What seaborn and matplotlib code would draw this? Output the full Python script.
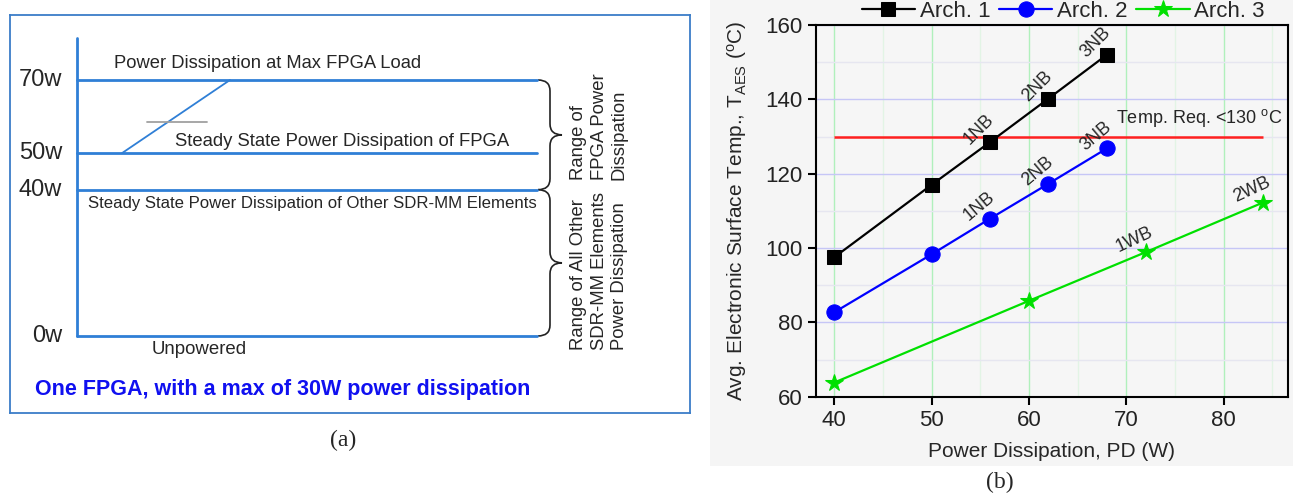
import seaborn as sns
import matplotlib.pyplot as plt
from matplotlib.patches import Rectangle, PathPatch
from matplotlib.path import Path
from matplotlib.ticker import MultipleLocator

# ---- panel (a): power budget diagram ----
power_levels = [0, 40, 50, 70]
power_labels = ["0w", "40w", "50w", "70w"]
fpga_steady_w = 50
fpga_max_w = 70
other_w = 40

# ---- panel (b): temperature vs power dissipation ----
arch1_pd = [40, 50, 56, 62, 68]
arch1_temp = [97.5, 117.0, 128.5, 140.2, 152.0]
arch1_tags = ["", "", "1NB", "2NB", "3NB"]

arch2_pd = [40, 50, 56, 62, 68]
arch2_temp = [82.7, 98.3, 107.9, 117.3, 126.8]
arch2_tags = ["", "", "1NB", "2NB", "3NB"]

arch3_pd = [40, 60, 72, 84]
arch3_temp = [63.8, 85.8, 98.9, 112.2]
arch3_tags = ["", "", "1WB", "2WB"]

temp_req = 130
temp_req_span = (40, 84)

sns.set_theme(style="white")
plt.rcParams["font.family"] = ["Liberation Sans", "DejaVu Sans"]
plt.rcParams["mathtext.default"] = "regular"

fig = plt.figure(figsize=(12.93, 4.97), dpi=100)
W, H = 1293, 497

# grey backdrop behind panel (b)
fig.add_artist(Rectangle((710 / W, 31 / H), (W - 710) / W, 466 / H,
                         transform=fig.transFigure, facecolor="#f5f5f5",
                         edgecolor="none", zorder=0))

# ================= panel (a) =================
ax_a = fig.add_axes([10 / W, 84 / H, 680 / W, 398 / H])
ax_a.set_xlim(10, 690)
ax_a.set_ylim(-21.06, 87.77)
ax_a.set_xticks([])
ax_a.set_yticks([])
for s in ax_a.spines.values():
    s.set_color("#3b7dc8")
    s.set_linewidth(1.3)

blue = "#2f7fd6"
ax_a.plot([77, 77], [0, 81.5], color=blue, lw=2)
for lvl, lab in zip(power_levels, power_labels):
    ax_a.plot([77, 537], [lvl, lvl], color=blue, lw=2)
    ax_a.text(62, lvl, lab, ha="right", va="center", fontsize=17)

# slanted transition line from steady to max load, crossed by a short grey tick
ax_a.plot([122, 230], [fpga_steady_w, fpga_max_w], color=blue, lw=1.3)
ax_a.plot([147, 207], [58.5, 58.5], color="#a0a0a0", lw=1.3)

ax_a.text(114, 74.6, "Power Dissipation at Max FPGA Load", va="center",
          fontsize=13.2)
ax_a.text(175, 53.3, "Steady State Power Dissipation of FPGA", va="center",
          fontsize=13.3)
ax_a.text(88, 36.1, "Steady State Power Dissipation of Other SDR-MM Elements",
          va="center", fontsize=12.1)
ax_a.text(152, -3.8, "Unpowered", va="center", fontsize=13.4)
ax_a.text(35, -14.5, "One FPGA, with a max of 30W power dissipation",
          va="center", fontsize=15.5, fontweight="bold", color="#1010f0")


def brace(ax, x0, x1, ytop, ybot, r=3.0):
    xm = (x0 + x1) / 2
    ym = (ytop + ybot) / 2
    verts = [(x0, ytop), (xm, ytop), (xm, ytop - r), (xm, ym + r),
             (xm, ym), (x1, ym), (xm, ym), (xm, ym - r), (xm, ybot + r),
             (xm, ybot), (x0, ybot)]
    codes = [Path.MOVETO, Path.CURVE3, Path.CURVE3, Path.LINETO,
             Path.CURVE3, Path.CURVE3, Path.CURVE3, Path.CURVE3, Path.LINETO,
             Path.CURVE3, Path.CURVE3]
    ax.add_patch(PathPatch(Path(verts, codes), fill=False, color="#222222", lw=1.2))


brace(ax_a, 538, 562, fpga_max_w, other_w)
brace(ax_a, 538, 562, other_w, 0)
ax_a.text(599, 42.7, "Range of\nFPGA Power\nDissipation", rotation=90,
          ha="center", va="bottom", multialignment="left", fontsize=13.3,
          linespacing=1.25)
ax_a.text(599, -3.8, "Range of All Other\nSDR-MM Elements\nPower Dissipation",
          rotation=90, ha="center", va="bottom", multialignment="left",
          fontsize=13.3, linespacing=1.25)

fig.text(343 / W, 1 - 440 / H, "(a)", ha="center", va="center", fontsize=17,
         family="Liberation Serif")

# ================= panel (b) =================
ax = fig.add_axes([815.7 / W, 100.3 / H, 472.3 / W, 371.7 / H])
ax.set_facecolor("#f6f6f6")

series = [
    ("Arch. 1", arch1_pd, arch1_temp, arch1_tags, "black", "s", 10, 45),
    ("Arch. 2", arch2_pd, arch2_temp, arch2_tags, "#0000ff", "o", 11, 40),
    ("Arch. 3", arch3_pd, arch3_temp, arch3_tags, "#00e000", "*", 13, 25),
]
for name, xs, ys, tags, col, mk, ms, rot in series:
    sns.lineplot(x=xs, y=ys, ax=ax, color=col, marker=mk, markersize=ms,
                 markeredgecolor=col, linewidth=1.6, label=name, zorder=3)
    for x, y, t in zip(xs, ys, tags):
        if t:
            ax.annotate(t, (x, y), xytext=(-8, 9), textcoords="offset points",
                        ha="center", va="center", rotation=rot, fontsize=13)

ax.hlines(temp_req, *temp_req_span, color="#ff2020", lw=1.8, zorder=2)
ax.text(68.9, 135, "Temp. Req. <130 $^{o}$C", fontsize=13, va="center")

ax.set_xlim(38.1, 86.6)
ax.set_ylim(60, 160)
ax.xaxis.set_major_locator(MultipleLocator(10))
ax.xaxis.set_minor_locator(MultipleLocator(5))
ax.yaxis.set_major_locator(MultipleLocator(20))
ax.yaxis.set_minor_locator(MultipleLocator(10))
ax.grid(True, axis="x", which="major", color="#b0f0bc", lw=1)
ax.grid(True, axis="x", which="minor", color="#e2f4e5", lw=1)
ax.grid(True, axis="y", which="major", color="#c6c6f6", lw=1)
ax.grid(True, axis="y", which="minor", color="#e6e6f0", lw=1)
ax.set_axisbelow(True)
for s in ax.spines.values():
    s.set_color("black")
    s.set_linewidth(1.5)
ax.tick_params(which="major", direction="out", length=6, width=1.5,
               labelsize=16, bottom=True, left=True, colors="black")
ax.tick_params(which="minor", length=0)
ax.tick_params(axis="x", labelcolor="#222222")
ax.tick_params(axis="y", labelcolor="#222222")

ax.set_xlabel("Power Dissipation, PD (W)", fontsize=15, labelpad=8)
ax.set_ylabel("Avg. Electronic Surface Temp., T$_{AES}$ ($^{o}$C)",
              fontsize=15, labelpad=12)

ax.legend(loc="lower center", bbox_to_anchor=(0.524, 1.008), ncol=3,
          frameon=False, fontsize=16, handlelength=2.4, handletextpad=0.2,
          columnspacing=0.4, borderaxespad=0, borderpad=0)

fig.text(1000 / W, 1 - 482 / H, "(b)", ha="center", va="center", fontsize=17,
         family="Liberation Serif")

fig.savefig("out.png", dpi=100)
